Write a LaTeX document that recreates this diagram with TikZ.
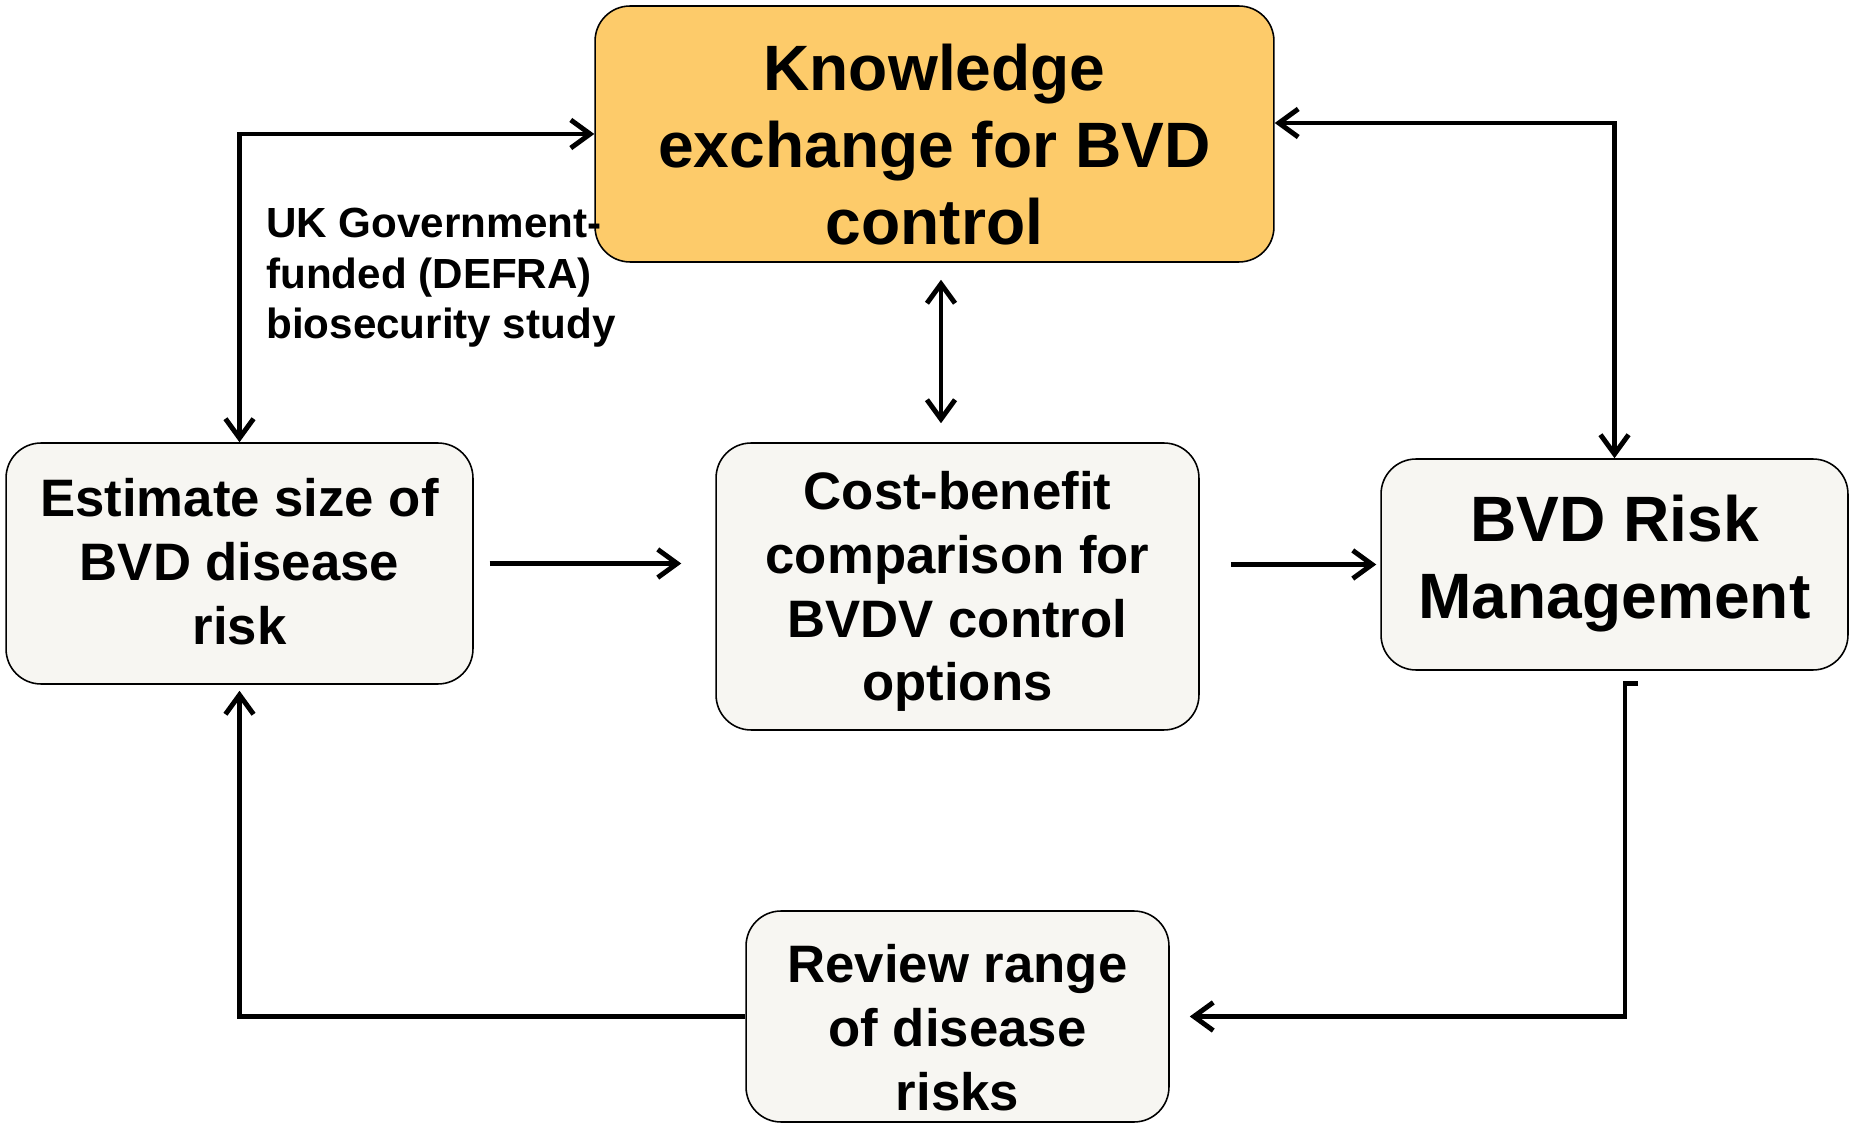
\documentclass[tikz,border=0pt]{standalone}
\usepackage{fontspec}
\setmainfont{Liberation Sans}
\usepackage{xcolor}
\usepackage{tikz}
\usetikzlibrary{arrows.meta,positioning}
\definecolor{knowfill}{HTML}{FDCB6A}
\definecolor{boxfill}{HTML}{F7F6F2}

\begin{document}
\begin{tikzpicture}[x=0.02cm, y=-0.02cm,
  box/.style={draw, fill=boxfill, rounded corners=0.7cm, line width=0.9pt, inner sep=0pt},
  boxtext/.style={align=center, inner sep=0pt, font=\bfseries\fontsize{30}{36.3}\selectfont},
  bigtext/.style={align=center, inner sep=0pt, font=\bfseries\fontsize{36.5}{44}\selectfont},
  conn/.style={line width=2.8pt},
  >={Straight Barb[length=11pt,width=16pt]}]
\useasboundingbox (0,0) rectangle (1849,1124);

\node[box, fill=knowfill, minimum width=13.58cm, minimum height=5.12cm] (know) at (934.5,134) {};
\node[bigtext] (knowtxt) at ([yshift=-0.21cm]know.center) {Knowledge\\exchange for BVD\\control};
\node[box, minimum width=9.34cm, minimum height=4.82cm] (est) at (239.5,563.5) {};
\node[boxtext] (esttxt) at ([yshift=0.04cm]est.center) {Estimate size of\\BVD disease\\risk};
\node[box, minimum width=9.66cm, minimum height=5.74cm] (cba) at (957.5,586.5) {};
\node[boxtext] (cbatxt) at ([yshift=-0.1cm]cba.center) {Cost-benefit\\comparison for\\BVDV control\\options};
\node[box, minimum width=9.34cm, minimum height=4.22cm] (risk) at (1614.5,564.5) {};
\node[bigtext] (risktxt) at ([yshift=0.02cm]risk.center) {BVD Risk\\Management};
\node[box, minimum width=8.46cm, minimum height=4.22cm] (rev) at (957.5,1016.5) {};
\node[boxtext] (revtxt) at ([yshift=-0.22cm]rev.center) {Review range\\of disease\\risks};
\node[anchor=north west, align=left, inner sep=0pt, font=\bfseries\fontsize{24}{28.8}\selectfont] (study) at (266,208) {UK Government-\\funded (DEFRA)\\biosecurity study};

\draw[conn,<->] (est.north) |- (know.west);
\draw[conn,<->] ([yshift=0.22cm]know.east) -| (risk.north);
\coordinate (kx) at ([xshift=0.13cm]know.south);
\draw[conn,<->,shorten <=0.34cm,shorten >=0.38cm] (kx) -- (kx |- cba.north);
\draw[conn,->,shorten <=0.32cm,shorten >=0.68cm] (est.east) -- (est.east -| cba.west);
\draw[conn,->,shorten <=0.62cm,shorten >=0.08cm] (risk.west -| cba.east) -- (risk.west);
\coordinate (tick) at ([xshift=0.47cm,yshift=-0.26cm]risk.south);
\draw[conn,->] (tick) -- ++(-13,0) |- ([xshift=0.4cm]rev.east);
\draw[conn,->] (rev.west) -| ([yshift=-0.12cm]est.south);
\end{tikzpicture}
\end{document}
